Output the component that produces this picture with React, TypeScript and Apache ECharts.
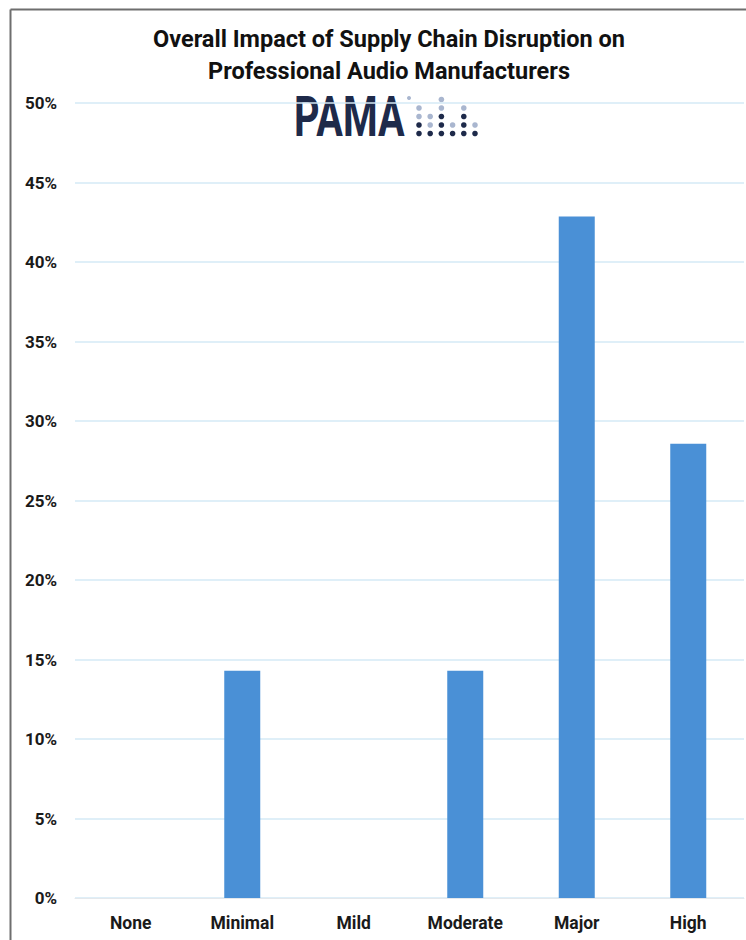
import React, { useEffect, useRef } from "react";
import * as echarts from "echarts";

const categories = ["None", "Minimal", "Mild", "Moderate", "Major", "High"];
const values = [0, 14.29, 0, 14.29, 42.86, 28.57];
const yTicks = [0, 5, 10, 15, 20, 25, 30, 35, 40, 45, 50];
const titleLines = [
  "Overall Impact of Supply Chain Disruption on",
  "Professional Audio Manufacturers",
];
// logo dot pattern, rows top->bottom, 0 = none, 1 = light, 2 = dark
const logoDots = [
  [0, 0, 1, 0, 0, 0],
  [1, 0, 1, 0, 1, 0],
  [1, 1, 2, 0, 2, 0],
  [2, 1, 2, 1, 2, 1],
  [2, 2, 2, 2, 2, 2],
];

export default function App() {
  const ref = useRef<HTMLDivElement>(null);
  useEffect(() => {
    document.body.style.margin = "0";
    const chart = echarts.init(ref.current!, null, { renderer: "svg" });
    const dots: any[] = [];
    logoDots.forEach((row, r) => {
      row.forEach((v, c) => {
        if (v === 0) return;
        dots.push({
          type: "circle",
          shape: { cx: 419 + c * 11.2, cy: 99.5 + r * 8.5, r: 2.8 },
          style: { fill: v === 2 ? "#1e2a4a" : "#a9b6cf" },
        });
      });
    });
    chart.setOption({
      animation: false,
      backgroundColor: "#ffffff",
      title: {
        text: titleLines.join("\n"),
        left: 384,
        textAlign: "center",
        top: 18,
        textStyle: {
          fontFamily: "Roboto, 'Noto Sans', sans-serif",
          fontWeight: "bold",
          fontSize: 23.5,
          lineHeight: 32,
          color: "#111111",
        },
      },
      graphic: [
        {
          type: "line",
          shape: { x1: 10.5, y1: 9.5, x2: 746, y2: 9.5 },
          style: { stroke: "#6e6e6e", lineWidth: 2 },
        },
        {
          type: "line",
          shape: { x1: 10.5, y1: 9.5, x2: 10.5, y2: 940 },
          style: { stroke: "#6e6e6e", lineWidth: 2 },
        },
        {
          type: "text",
          x: 294,
          y: 90,
          scaleX: 0.72,
          style: {
            text: "PAMA",
            fontFamily: "Roboto, sans-serif",
            fontWeight: "bold",
            fontSize: 55,
            fill: "#1e2a4a",
            textVerticalAlign: "top",
          },
        },
        {
          type: "circle",
          shape: { cx: 409, cy: 98, r: 2 },
          style: { fill: "#a9b6cf" },
        },
        ...dots,
      ],
      grid: { left: 75, right: 2, top: 103, bottom: 42, containLabel: false },
      xAxis: {
        type: "category",
        data: categories,
        axisLine: { show: true, lineStyle: { color: "#e4e8ec", width: 1 } },
        axisTick: { show: false },
        axisLabel: {
          margin: 16,
          fontFamily: "Roboto, 'Noto Sans', sans-serif",
          fontWeight: "bold",
          fontSize: 17.5,
          color: "#1a1a1a",
        },
      },
      yAxis: {
        type: "value",
        min: 0,
        max: 50,
        interval: 5,
        axisLine: { show: false },
        axisTick: { show: false },
        axisLabel: {
          margin: 18,
          formatter: (v: number) => (yTicks.includes(v) ? v + "%" : ""),
          fontFamily: "Roboto, 'Noto Sans', sans-serif",
          fontWeight: "bold",
          fontSize: 17,
          color: "#1a1a1a",
        },
        splitLine: { lineStyle: { color: "#d5eaf6", width: 1.5 } },
      },
      series: [
        {
          type: "bar",
          data: values,
          barWidth: 36,
          itemStyle: { color: "#4a90d6" },
        },
      ],
    });
    return () => chart.dispose();
  }, []);
  return <div ref={ref} style={{ width: 746, height: 940 }} />;
}
